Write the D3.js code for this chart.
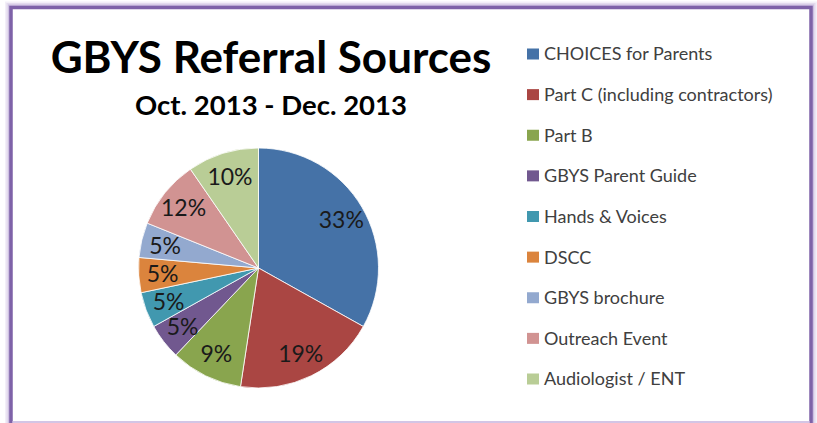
<!DOCTYPE html>
<html>
<head>
<meta charset="utf-8">
<script src="https://cdn.jsdelivr.net/npm/d3@7"></script>
<style>
  html, body { margin: 0; padding: 0; background: #fff; }
  svg { display: block; }
</style>
</head>
<body>
<div id="container"></div>
<script>
// categories, slice shares and the printed labels
const categories = [
  "CHOICES for Parents",
  "Part C (including contractors)",
  "Part B",
  "GBYS Parent Guide",
  "Hands & Voices",
  "DSCC",
  "GBYS brochure",
  "Outreach Event",
  "Audiologist / ENT"
];
const shares = [33.1, 19.3, 9.7, 4.8, 4.8, 4.7, 4.7, 9.3, 9.6];
const pctLabels = ["33%", "19%", "9%", "5%", "5%", "5%", "5%", "12%", "10%"];
const colors = ["#4572a7", "#aa4643", "#89a54e", "#71588f", "#4198af",
                "#db843d", "#93a9cf", "#d19392", "#b9cd96"];

const width = 817, height = 423;
const font = "Lato, 'Open Sans', sans-serif";

const svg = d3.select("#container")
  .append("svg")
  .attr("width", width)
  .attr("height", height);

// frame with soft purple glow
const glow = [[12, 0.12], [9, 0.18], [6, 0.3]];
glow.forEach(([w, o]) => {
  svg.append("rect")
    .attr("x", 11).attr("y", 7.5)
    .attr("width", 800).attr("height", 440)
    .attr("fill", "none")
    .attr("stroke", "#9b7fc4")
    .attr("stroke-opacity", o)
    .attr("stroke-width", w);
});
svg.append("rect")
  .attr("x", 11).attr("y", 7.5)
  .attr("width", 800).attr("height", 440)
  .attr("fill", "#fff")
  .attr("stroke", "#7e62a8")
  .attr("stroke-width", 3.5);
svg.append("line")
  .attr("x1", 12).attr("x2", 810)
  .attr("y1", 422).attr("y2", 422)
  .attr("stroke", "#c4b2dc")
  .attr("stroke-width", 1.5);

// titles
svg.append("text")
  .attr("x", 271).attr("y", 73)
  .attr("text-anchor", "middle")
  .attr("font-family", font)
  .attr("font-weight", "bold")
  .attr("font-size", 44)
  .attr("fill", "#000")
  .text("GBYS Referral Sources");

svg.append("text")
  .attr("x", 271).attr("y", 115)
  .attr("text-anchor", "middle")
  .attr("font-family", font)
  .attr("font-weight", "bold")
  .attr("font-size", 27.5)
  .attr("fill", "#000")
  .text("Oct. 2013 - Dec. 2013");

// pie
const cx = 258.5, cy = 268, r = 120;
const pie = d3.pie().sort(null).value((d) => d.value);
const data = categories.map((c, i) => ({ name: c, value: shares[i], label: pctLabels[i], color: colors[i] }));
const arcs = pie(data);

const arc = d3.arc().innerRadius(0).outerRadius(r);
const labelArc = d3.arc().innerRadius(r * 0.8).outerRadius(r * 0.8);

const g = svg.append("g").attr("transform", `translate(${cx},${cy})`);

g.selectAll("path")
  .data(arcs)
  .join("path")
  .attr("d", arc)
  .attr("fill", (d) => d.data.color)
  .attr("stroke", "#fff")
  .attr("stroke-width", 0.8);

g.selectAll("text")
  .data(arcs)
  .join("text")
  .attr("transform", (d) => `translate(${labelArc.centroid(d)})`)
  .attr("text-anchor", "middle")
  .attr("dy", "0.36em")
  .attr("font-family", font)
  .attr("font-size", 23)
  .attr("fill", "#1a1a1a")
  .text((d) => d.data.label);

// legend
const legendY = d3.scalePoint().domain(categories).range([54, 379]);
const legend = svg.append("g");

const items = legend.selectAll("g")
  .data(data)
  .join("g")
  .attr("transform", (d) => `translate(527,${legendY(d.name)})`);

items.append("rect")
  .attr("x", 0).attr("y", -5.5)
  .attr("width", 12).attr("height", 11)
  .attr("fill", (d) => d.color);

items.append("text")
  .attr("x", 17).attr("dy", "0.36em")
  .attr("font-family", font)
  .attr("font-size", 18)
  .attr("fill", "#404040")
  .text((d) => d.name);
</script>
</body>
</html>
